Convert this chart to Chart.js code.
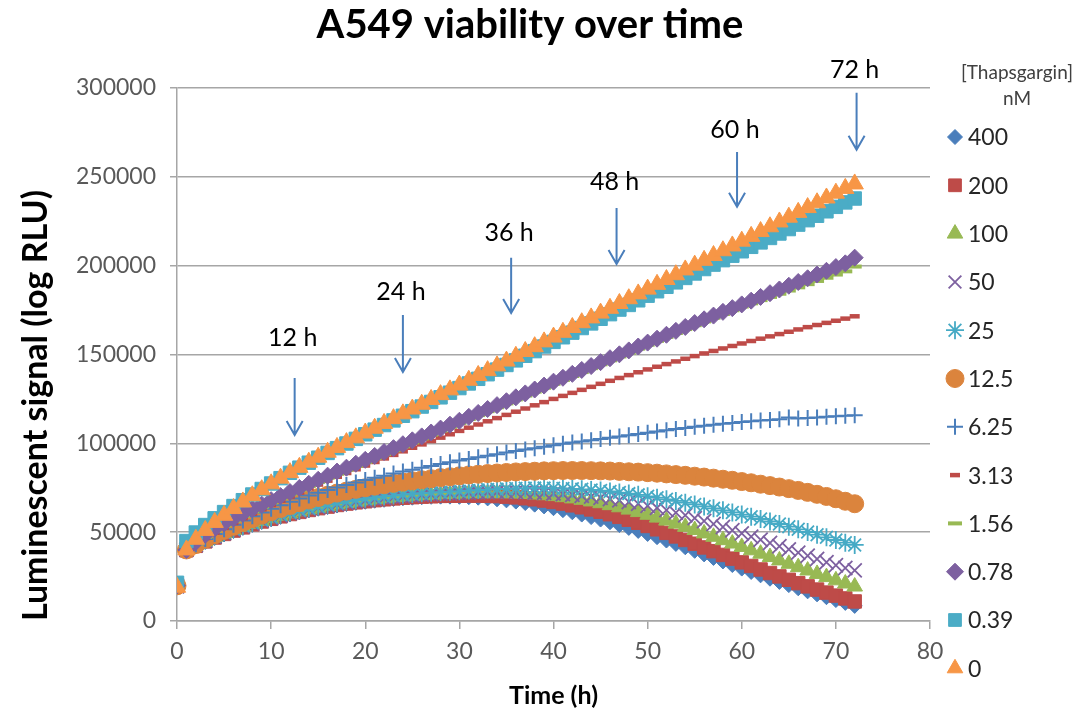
<!DOCTYPE html>
<html>
<head>
<meta charset="utf-8">
<script src="https://cdn.jsdelivr.net/npm/chart.js@4/dist/chart.umd.min.js"></script>
<style>
  html, body { margin: 0; padding: 0; background: #fff; }
  #wrap { width: 1083px; height: 711px; }
</style>
</head>
<body>
<div id="wrap"><canvas id="viabilityChart" width="1083" height="711"></canvas></div>
<script>
// time points (h)
const hours = [0,1,2,3,4,5,6,7,8,9,10,11,12,13,14,15,16,17,18,19,20,21,22,23,24,25,26,27,28,29,30,31,32,33,34,35,36,
    37,38,39,40,41,42,43,44,45,46,47,48,49,50,51,52,53,54,55,56,57,58,59,60,61,62,63,64,65,66,67,68,69,70,71,72];

// [Thapsgargin] nM, legend order
const concentrations = ['400', '200', '100', '50', '25', '12.5', '6.25', '3.13', '1.56', '0.78', '0.39', '0'];

// luminescent signal, one value per hour
const nM400 = [19500,39500,42000,44500,46700,48700,50600,52400,54100,55700,57200,58600,59900,61100,62200,63200,64100,65000,65800,66500,67100,67700,68200,68700,69100,69400,69700,69900,70000,70000,
    69900,69700,69400,69000,68500,67900,67200,66400,65500,64500,63500,62400,61200,59900,58500,57100,55600,54000,52400,50700,49000,47200,45300,43400,41500,39500,37500,35500,33500,31500,
    29500,27600,25700,23800,22000,20200,18400,16700,15000,13400,11800,10200,8500];
const nM200 = [20000,39800,42300,44800,47000,49000,50900,52700,54400,56000,57500,58900,60200,61400,62500,63500,64400,65300,66100,66800,67400,68000,68500,69000,69400,69700,70000,70200,70400,70500,
    70500,70600,70600,70500,70300,70000,69600,69100,68500,67800,67000,66100,65100,64000,62800,61500,60100,58600,57000,55300,53500,51600,49600,47600,45600,43500,41400,39300,37200,35100,
    33000,31000,29000,27000,25100,23200,21300,19500,17700,16000,14300,12700,11000];
const nM100 = [19800,40000,42600,45100,47300,49300,51200,53000,54700,56300,57800,59200,60500,61700,62800,63800,64700,65600,66400,67100,67800,68400,69000,69500,69900,70300,70700,71000,71300,71500,
    71700,71800,71900,71900,71900,71800,71700,71500,71200,70800,70300,69700,69000,68200,67300,66300,65200,64000,62700,61300,59800,58200,56500,54800,53000,51200,49300,47400,45500,43600,
    41700,39800,37900,36000,34100,32200,30300,28400,26500,24700,22900,21100,19400];
const nM50 = [19500,40200,42800,45300,47500,49500,51400,53200,54900,56500,58000,59400,60700,61900,63000,64000,64900,65800,66600,67300,68000,68600,69200,69700,70200,70600,71000,71300,71600,71800,
    72000,72200,72400,72500,72600,72600,72600,72500,72300,72100,71800,71400,71000,70500,70000,69400,68700,67900,67000,66000,64900,63700,62400,61000,59500,57900,56300,54600,52900,51100,
    49300,47500,45700,43900,42100,40300,38500,36700,34900,33100,31400,29800,28500];
const nM25 = [20000,40500,43000,45500,47800,49900,51800,53600,55300,56900,58400,59800,61100,62300,63400,64500,65500,66400,67300,68100,68800,69500,70100,70600,71100,71500,71900,72200,72500,72800,
    73000,73400,73700,74000,74200,74400,74600,74700,74800,74800,74700,74600,74400,74100,73800,73400,72900,72300,71700,71000,70200,69400,68500,67600,66600,65600,64500,63400,62300,61100,
    59900,58700,57400,56000,54600,53100,51600,50100,48600,47100,45600,44100,42800];
const nM12_5 = [19800,40000,43000,46000,48500,51000,53300,55500,57600,59600,61500,63300,65000,66600,68100,69500,70800,72000,73100,74100,75000,75900,76700,77500,78200,78900,79500,80100,80700,81200,
    81700,82200,82600,83000,83300,83600,83900,84100,84300,84500,84600,84700,84700,84700,84600,84500,84400,84200,84000,83800,83500,83200,82800,82400,82000,81500,81000,80400,79800,79200,
    78500,77800,77000,76200,75400,74500,73500,72400,71300,70100,68800,67400,66000];
const nM6_25 = [20000,40000,43200,46200,49000,51700,54200,56600,58900,61100,63200,65200,67100,68900,70600,72200,73700,75200,76600,78000,79300,80600,81800,83000,84100,85200,86300,87300,88300,89300,
    90300,91200,92100,93000,93900,94800,95700,96500,97300,98100,98900,99700,100400,101100,101800,102500,103200,103900,104600,105300,106000,106700,107400,108100,108700,109300,109900,110500,111000,111500,
    112000,112400,112800,113200,113600,114500,114000,114300,114600,114900,115200,115500,115800];
const nM3_13 = [20000,40000,43500,46700,49700,52500,55200,57800,60400,62900,65300,67700,70000,72300,74600,76800,79000,81200,83300,85400,87500,89500,91500,93500,95500,97500,99400,101300,103200,105100,
    107000,108800,110600,112400,114200,116000,117800,119600,121400,123200,125000,126700,128400,130100,131800,133500,135200,136800,138400,140000,141600,143100,144600,146100,147600,149100,150600,152000,153400,154800,
    156200,157600,158900,160200,161500,162800,164100,165400,166600,167800,169000,170200,171500];
const nM1_56 = [20000,40000,43500,47400,50800,53800,56500,59200,61800,64300,66800,69100,71400,73700,76000,78300,80600,82900,85100,87300,89500,91700,93900,96100,98300,100500,102700,104900,107100,109300,
    111500,113700,115900,118100,120300,122500,124700,126900,129100,131300,133500,135700,137900,140100,142300,144500,146700,148900,151100,153300,155500,157700,159900,162100,164300,166500,168600,170700,172800,174900,
    177000,178800,180600,182400,184200,186000,187800,189600,191400,193200,195000,196800,199500];
const nM0_78 = [20000,40000,44500,48500,52000,55000,57700,60400,63000,65500,68000,70300,72600,74900,77200,79500,81800,84100,86300,88500,90700,92900,95100,97300,99500,101700,103900,106100,108300,110500,
    112700,114900,117100,119300,121500,123700,125900,128100,130300,132500,134700,136900,139100,141300,143500,145700,147900,150100,152300,154500,156700,158900,161100,163300,165500,167700,169800,171900,174000,176100,
    178200,180300,182400,184500,186600,188700,190800,192900,195000,197100,199200,201300,204500];
const nM0_39 = [21500,45000,49800,54000,57800,61300,64700,68000,71200,74300,77400,80400,83400,86300,89100,91900,94600,97300,99900,102500,105100,107700,110300,112900,115500,118100,120700,123300,125900,128500,
    131100,133700,136300,138900,141500,144100,146700,149300,151900,154500,157100,159700,162300,164900,167500,170100,172700,175300,177900,180500,183100,185600,188100,190600,193100,195600,198100,200600,203100,205600,
    208100,210600,213100,215600,218100,220600,223100,225600,228100,230600,233100,235600,237800];
const nM0 = [19000,40000,46000,51000,55500,59500,63300,67000,70500,73900,77200,80400,83500,86500,89400,92200,95000,97700,100400,103100,105800,108500,111200,113900,116600,119300,122000,124700,127400,130100,
    132800,135500,138200,140900,143600,146300,149000,151700,154400,157100,159800,162500,165200,167900,170600,173300,176000,178700,181400,184100,186800,189500,192200,194900,197600,200300,203000,205700,208400,211100,
    213800,216500,219200,221900,224600,227300,230000,232700,235400,238100,240800,243500,246000];

const seriesValues = [nM400, nM200, nM100, nM50, nM25, nM12_5, nM6_25, nM3_13, nM1_56, nM0_78, nM0_39, nM0];

// axis ticks
const yTicks = [0, 50000, 100000, 150000, 200000, 250000, 300000];
const xTicks = [0, 10, 20, 30, 40, 50, 60, 70, 80];

// time-point annotations (arrows)
const arrowLabels = ['12 h', '24 h', '36 h', '48 h', '60 h', '72 h'];
const arrowHours = [12.5, 24, 35.5, 46.7, 59.5, 72.2];
const arrowTipValues = [104700, 140200, 173400, 201000, 233100, 265200];
const arrowTopValues = [136800, 172300, 204400, 232500, 264000, 297300];
const arrowLabelValues = [159300, 185200, 218400, 247200, 276400, 310200];

// marker look per series
const markerStyles = [
    { style: 'rectRot', radius: 7.5, color: '#4a7ebb', width: 1 },
    { style: 'rect', radius: 9.5, color: '#be4b48', width: 1 },
    { style: 'triangle', radius: 9, color: '#98b954', width: 1 },
    { style: 'crossRot', radius: 10, color: '#7d60a0', width: 1.8 },
    { style: 'star', radius: 9, color: '#46aac5', width: 1.8 },
    { style: 'circle', radius: 9, color: '#db843d', width: 1 },
    { style: 'cross', radius: 8, color: '#4a7ebb', width: 2 },
    { style: 'line', radius: 5, color: '#be4b48', width: 4.5 },
    { style: 'line', radius: 7, color: '#98b954', width: 4 },
    { style: 'rectRot', radius: 8.5, color: '#7d60a0', width: 1 },
    { style: 'rect', radius: 9.5, color: '#4bacc6', width: 1 },
    { style: 'triangle', radius: 10, color: '#f79646', width: 1 }
];

Chart.defaults.font.family = 'Lato, "Open Sans", sans-serif';

const datasets = seriesValues.map(function (values, i) {
    const m = markerStyles[i];
    return {
        label: concentrations[i],
        data: values.map((v, j) => ({ x: hours[j], y: v })),
        pointStyle: m.style,
        pointRadius: m.radius,
        pointBackgroundColor: m.color,
        pointBorderColor: m.color,
        pointBorderWidth: m.width,
        showLine: false,
        order: seriesValues.length - i   // later series drawn on top, like Excel
    };
});

// arrows + "xx h" labels
const arrowPlugin = {
    id: 'timeArrows',
    afterDatasetsDraw(chart) {
        const ctx = chart.ctx;
        const xs = chart.scales.x, ys = chart.scales.y;
        ctx.save();
        ctx.strokeStyle = '#4a7ebb';
        ctx.lineWidth = 2;
        ctx.font = '25px Lato, "Open Sans", sans-serif';
        ctx.fillStyle = '#000';
        ctx.textAlign = 'center';
        ctx.textBaseline = 'middle';
        arrowLabels.forEach(function (label, i) {
            const x = xs.getPixelForValue(arrowHours[i]);
            const yTop = ys.getPixelForValue(arrowTopValues[i]);
            const yTip = ys.getPixelForValue(arrowTipValues[i]);
            ctx.beginPath();
            ctx.moveTo(x, yTop);
            ctx.lineTo(x, yTip);
            ctx.moveTo(x - 8, yTip - 14);
            ctx.lineTo(x, yTip);
            ctx.lineTo(x + 8, yTip - 14);
            ctx.stroke();
            ctx.fillText(label, x - 2, ys.getPixelForValue(arrowLabelValues[i]));
        });
        ctx.restore();
    }
};

// legend on the right, with the two-line title
const sideLegendPlugin = {
    id: 'sideLegend',
    afterDraw(chart) {
        const ctx = chart.ctx;
        const area = chart.chartArea;
        const markerX = area.right + 25;
        const textX = area.right + 38;
        ctx.save();
        ctx.fillStyle = '#404040';
        ctx.font = '19px Lato, "Open Sans", sans-serif';
        ctx.textAlign = 'center';
        ctx.textBaseline = 'middle';
        ctx.fillText('[Thapsgargin]', area.right + 87, area.top - 15);
        ctx.fillText('nM', area.right + 87, area.top + 11);

        ctx.font = '23px Lato, "Open Sans", sans-serif';
        ctx.textAlign = 'left';
        concentrations.forEach(function (label, i) {
            const m = markerStyles[i];
            const y = area.top + 49 + i * 48.3;
            ctx.fillStyle = m.color;
            ctx.strokeStyle = m.color;
            ctx.lineWidth = m.width;
            Chart.helpers.drawPoint(ctx, {
                pointStyle: m.style,
                radius: Math.min(m.radius, 9),
                rotation: 0,
                borderWidth: m.width
            }, markerX, y);
            ctx.fillStyle = '#262626';
            ctx.fillText(label, textX, y + 1);
        });
        ctx.restore();
    }
};

const ctx = document.getElementById('viabilityChart').getContext('2d');

const viabilityChart = new Chart(ctx, {
    type: 'scatter',
    data: { datasets: datasets },
    options: {
        responsive: false,
        animation: false,
        layout: { padding: { left: 0, right: 23, top: 0, bottom: 0 } },
        plugins: {
            legend: { display: false },
            tooltip: { enabled: false },
            title: {
                display: true,
                text: 'A549 viability over time',
                color: '#000',
                font: { size: 40, weight: 'bold' },
                padding: { top: 1, bottom: 39 }
            }
        },
        scales: {
            x: {
                type: 'linear',
                min: 0,
                max: 80,
                afterFit: function (scale) { scale.height = 90; },
                afterBuildTicks: function (scale) { scale.ticks = xTicks.map(v => ({ value: v })); },
                grid: { drawOnChartArea: false, drawTicks: true, tickLength: 8, color: '#a6a6a6', lineWidth: 1.5 },
                border: { display: true, color: '#a6a6a6', width: 1.5 },
                ticks: { font: { size: 23 }, color: '#595959', padding: 9, maxRotation: 0 },
                title: {
                    display: true,
                    text: 'Time (h)',
                    color: '#000',
                    font: { size: 25, weight: 'bold' },
                    padding: { top: 3, bottom: 0 }
                }
            },
            y: {
                min: 0,
                max: 300000,
                afterFit: function (scale) { scale.width = 177; },
                afterBuildTicks: function (scale) { scale.ticks = yTicks.map(v => ({ value: v })); },
                grid: { drawOnChartArea: true, drawTicks: true, tickLength: 7, color: '#a6a6a6', lineWidth: 1.5 },
                border: { display: true, color: '#a6a6a6', width: 1.5 },
                ticks: {
                    font: { size: 23 },
                    color: '#595959',
                    padding: 14,
                    callback: function (value) { return String(value); }
                },
                title: {
                    display: true,
                    text: 'Luminescent signal (log RLU)',
                    color: '#000',
                    align: 'start',
                    font: { size: 34, weight: 'bold' },
                    padding: { top: 16, bottom: 0 }
                }
            },
            // empty right-hand strip that holds the legend
            legendSpace: {
                type: 'linear',
                position: 'right',
                display: true,
                afterFit: function (scale) { scale.width = 130; },
                grid: { display: false },
                border: { display: false },
                ticks: { display: false }
            }
        }
    },
    plugins: [arrowPlugin, sideLegendPlugin]
});
</script>
</body>
</html>
